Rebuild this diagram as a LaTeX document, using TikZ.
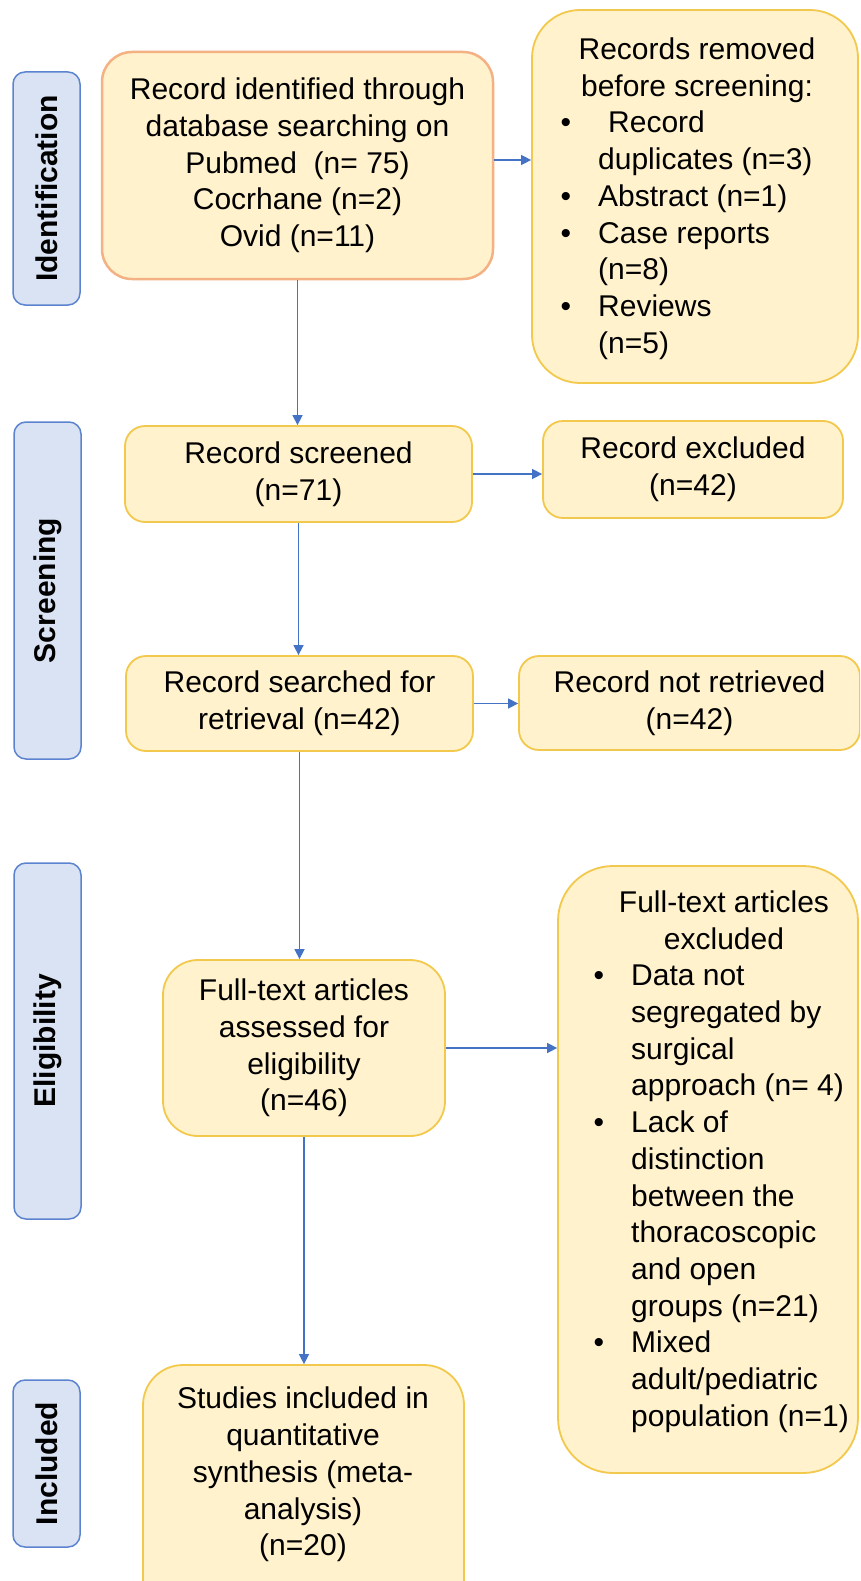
\documentclass[tikz,border=0pt]{standalone}
\usepackage{fontspec}
\setmainfont{Liberation Sans}
\usetikzlibrary{arrows.meta}
\definecolor{yfill}{HTML}{FFF2CC}
\definecolor{ygold}{HTML}{F2C94C}
\definecolor{yorange}{HTML}{F4B183}
\definecolor{lfill}{HTML}{DAE3F3}
\definecolor{lblue}{HTML}{5B83CF}
\definecolor{ablue}{HTML}{4472C4}
\newcommand{\mybul}{\llap{\symbol{"2022}\hspace{27pt}}}
\begin{document}
\begin{tikzpicture}[x=1pt,y=-1pt,
  txt/.style={font=\fontsize{30}{36.7}\selectfont, inner sep=0pt},
  ybox/.style={draw=ygold, fill=yfill, line width=1.8pt, inner sep=0pt, font=\fontsize{30}{36.7}\selectfont, align=center},
  lab/.style={draw=lblue, fill=lfill, line width=1.5pt, rounded corners=12pt, rotate=90, font=\fontsize{30}{36}\selectfont\bfseries, inner sep=0pt},
  arr/.style={draw=ablue, line width=1.5pt, -{Triangle[length=10pt,width=10pt]}}]
\useasboundingbox (0,0) rectangle (860,1581);
\fill[white] (0,0) rectangle (860,1581);
\clip (0,0) rectangle (860,1581);

% stage labels
\node[lab, minimum width=233pt, minimum height=67pt] (lid) at (46.5,188.5) {Identification};
\node[lab, minimum width=337pt, minimum height=67pt] (lsc) at (47.5,590.5) {Screening};
\node[lab, minimum width=356pt, minimum height=67pt] (lel) at (47.5,1041) {Eligibility};
\node[lab, minimum width=167pt, minimum height=67pt] (lin) at (46.5,1463.5) {Included};

% identification
\node[ybox, draw=yorange, line width=2.5pt, rounded corners=30pt, minimum width=391pt, minimum height=227pt] (box1) at (297.5,165.5)
  {Record identified through\\database searching on\\Pubmed\ \ (n=\ 75)\\Cocrhane (n=2)\\Ovid (n=11)};
\node[ybox, rounded corners=48pt, minimum width=326pt, minimum height=373pt] (removed) at (695,196.5) {};
\node[txt, align=center, anchor=north] (rmhead) at (697,38) {Records removed\\before screening:};
\node[txt, align=left, anchor=north west] (rmlist) at (598,111)
  {\mybul\hspace*{10pt}Record\\duplicates (n=3)\\\mybul Abstract (n=1)\\\mybul Case reports\\(n=8)\\\mybul Reviews\\(n=5)};

% screening
\node[ybox, rounded corners=20pt, minimum width=347pt, minimum height=96pt] (screened) at (298.5,474) {Record screened\\(n=71)};
\node[ybox, rounded corners=20pt, minimum width=300pt, minimum height=97pt] (excluded) at (693,469.5) {Record excluded\\(n=42)};
\node[ybox, rounded corners=20pt, minimum width=347pt, minimum height=95pt] (searched) at (299.5,703.5) {Record searched for\\retrieval (n=42)};
\node[ybox, rounded corners=20pt, minimum width=341pt, minimum height=94pt] (notret) at (689.5,703) {Record not retrieved\\(n=42)};

% eligibility
\node[ybox, rounded corners=35pt, minimum width=282pt, minimum height=176pt] (assessed) at (304,1048) {Full-text articles\\assessed for\\eligibility\\(n=46)};
\node[ybox, rounded corners=55pt, minimum width=300pt, minimum height=607pt] (ftexcl) at (708,1169.5) {};
\node[txt, align=center, anchor=north] (fthead) at (724,891) {Full-text articles\\excluded};
\node[txt, align=left, anchor=north west] (ftlist) at (631,965)
  {\mybul Data not\\segregated by\\surgical\\approach (n=\ 4)\\\mybul Lack of\\distinction\\between the\\thoracoscopic\\and open\\groups (n=21)\\\mybul Mixed\\adult/pediatric\\population (n=1)};

% included
\node[ybox, rounded corners=40pt, minimum width=321pt, minimum height=255pt] (studies) at (303.5,1492.5) {};
\node[txt, align=center, anchor=north] (sttext) at (303,1387) {Studies included in\\quantitative\\synthesis (meta-\\analysis)\\(n=20)};

% connectors
\coordinate (yA) at (0,160);
\draw[arr] (box1.east |- yA) -- (removed.west |- yA);
\draw[arr] (box1.south) -- (box1.south |- screened.north);
\draw[arr] (screened.east) -- (screened.east -| excluded.west);
\draw[arr] (screened.south) -- (screened.south |- searched.north);
\draw[arr] (searched.east) -- (searched.east -| notret.west);
\draw[arr] (searched.south) -- (searched.south |- assessed.north);
\draw[arr] (assessed.east) -- (assessed.east -| ftexcl.west);
\draw[arr] (assessed.south) -- (assessed.south |- studies.north);
\end{tikzpicture}
\end{document}
